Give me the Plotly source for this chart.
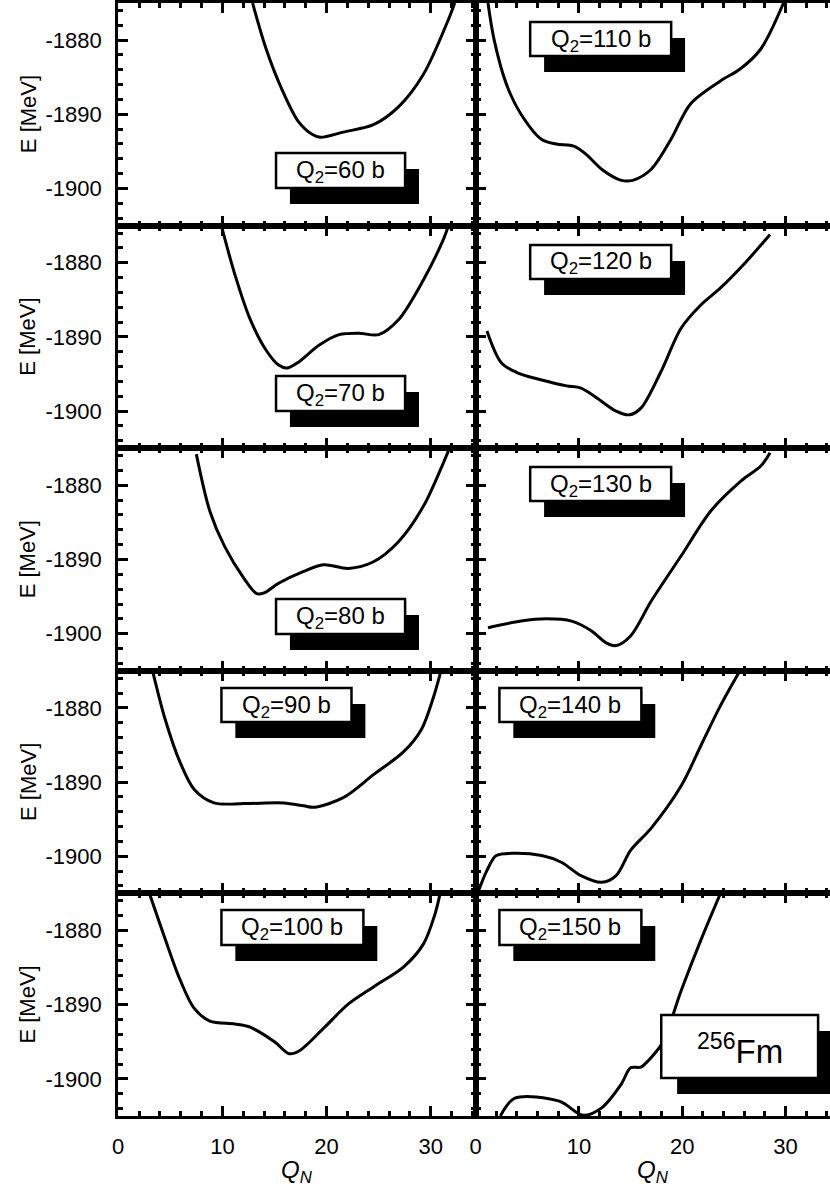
import plotly.graph_objects as go

W, H = 830, 1187

# ---------------- data (Q_N, E in MeV) ----------------
q60 = [12.9, 14.2, 15.7, 17.3, 18.6, 19.4, 21.6, 24.5, 26.9, 29.3, 31.7, 32.3]
e60 = [-1875, -1881.2, -1886.6, -1891, -1892.7, -1893.1, -1892.4, -1891.4, -1889, -1884.6, -1877.2, -1875]

q110 = [1.2, 1.8, 3.0, 4.4, 6.4, 7.8, 9.5, 10.7, 12.2, 14.1, 15.2, 17.0, 18.9, 20.8, 23.7, 25.6, 27.6, 29.8]
e110 = [-1875, -1880, -1886, -1890, -1893.4, -1894, -1894.3, -1895.4, -1897.4, -1898.9, -1898.9, -1897.4,
        -1893.4, -1888.6, -1885.5, -1883.9, -1881.2, -1875]

q70 = [9.9, 11.2, 12.6, 14.2, 15.4, 16.2, 17.3, 19.3, 21.2, 23.1, 25.0, 26.9, 29.3, 31.2, 31.7]
e70 = [-1875, -1881.6, -1887.4, -1891.8, -1893.8, -1894.2, -1893.4, -1891.1, -1889.7, -1889.5, -1889.7,
       -1887.7, -1882.3, -1876.9, -1875]

q120 = [1.1, 2.5, 4.0, 6.4, 8.8, 10.2, 11.7, 13.6, 14.9, 16.0, 17.9, 19.9, 21.8, 23.7, 26.1, 28.5]
e120 = [-1889.2, -1893.5, -1894.8, -1895.8, -1896.6, -1896.9, -1898.2, -1900, -1900.5, -1899.6, -1894.8,
        -1888.8, -1885.7, -1883.4, -1880, -1876.2]

q80 = [7.5, 8.8, 10.2, 12.1, 13.3, 14.0, 15.4, 17.8, 19.7, 22.1, 24.5, 26.9, 29.3, 31.2, 31.8]
e80 = [-1875.8, -1883.5, -1888.2, -1892.6, -1894.6, -1894.5, -1893.2, -1891.6, -1890.7, -1891.2, -1890.3,
       -1887.6, -1882.8, -1877, -1875]

q130 = [1.2, 4.4, 6.8, 9.3, 11.2, 12.6, 13.6, 15.0, 17.0, 19.9, 22.8, 25.7, 27.6, 28.5]
e130 = [-1899.2, -1898.3, -1898.0, -1898.3, -1899.6, -1901.2, -1901.6, -1900.3, -1895.6, -1889.5, -1883.4,
        -1879.4, -1877.4, -1875.6]

q90 = [3.3, 4.5, 5.9, 7.3, 9.2, 12.1, 15.9, 17.8, 18.8, 21.6, 24.5, 27.4, 29.1, 30.2, 30.9]
e90 = [-1875, -1881.5, -1887.2, -1891, -1892.8, -1892.9, -1892.8, -1893.2, -1893.4, -1892.1, -1889,
       -1885.9, -1882.9, -1878.8, -1875.4]

q140 = [0.2, 1.1, 2.0, 3.5, 6.4, 8.3, 10.2, 12.2, 13.6, 15.0, 17.0, 19.9, 21.8, 23.7, 25.5]
e140 = [-1905, -1901.9, -1899.9, -1899.6, -1899.9, -1900.8, -1902.6, -1903.5, -1902.6, -1899.2, -1896.2,
        -1890.5, -1885.1, -1879.7, -1875.2]

q100 = [3.0, 4.5, 5.9, 7.3, 8.8, 11.2, 12.6, 15.0, 16.4, 17.4, 19.7, 22.1, 24.5, 27.4, 29.3, 30.4, 30.9]
e100 = [-1875, -1881.1, -1886.5, -1890.5, -1892.2, -1892.6, -1893, -1895, -1896.6, -1896.2, -1893.2,
        -1889.9, -1887.6, -1884.9, -1881.8, -1877.8, -1875]

q150 = [2.4, 3.8, 8.1, 10.4, 12.2, 14.1, 15.0, 16.0, 17.0, 18.1, 19.9, 21.8, 23.7]
e150 = [-1905, -1902.6, -1903, -1904.9, -1903.9, -1900.7, -1898.5, -1898.4, -1897.1, -1895.1, -1888.1,
        -1881.3, -1875]

panel_labels = ["Q<sub>2</sub>=60 b", "Q<sub>2</sub>=110 b",
                "Q<sub>2</sub>=70 b", "Q<sub>2</sub>=120 b",
                "Q<sub>2</sub>=80 b", "Q<sub>2</sub>=130 b",
                "Q<sub>2</sub>=90 b", "Q<sub>2</sub>=140 b",
                "Q<sub>2</sub>=100 b", "Q<sub>2</sub>=150 b"]
panel_q = [q60, q110, q70, q120, q80, q130, q90, q140, q100, q150]
panel_e = [e60, e110, e70, e120, e80, e130, e90, e140, e100, e150]

x_tickvals = [0, 10, 20, 30]
x_ticktext = ["0", "10", "20", "30"]
y_tickvals = [-1900, -1890, -1880]
y_ticktext = ["-1900", "-1890", "-1880"]
nucleus_label = "<sup>256</sup>Fm"

# ---------------- layout geometry (pixels) ----------------
col_px = [(113, 473), (473, 830)]
row_top, row_h = 3.0, 222.6
X_RANGE = [0, 34.3]
Y_RANGE = [-1905, -1875]

# label boxes: (x0, x1, y0, y1) in px for the white boxes
box_px = [(272, 402, 153, 188), (528, 670, 22, 56),
          (272, 402, 376, 411), (528, 670, 245, 279),
          (272, 402, 599, 634), (528, 670, 467, 501),
          (217, 348, 688, 722), (497, 640, 688, 722),
          (217, 360, 910, 945), (497, 640, 910, 945)]
fm_box_px = (660, 818, 1015, 1078)
SHADOW_DX, SHADOW_DY = 14, 16

FONT = "Liberation Sans, Arial, Helvetica, sans-serif"


def px_x(p):
    return p / W


def px_y(p):
    return 1 - p / H


fig = go.Figure()

for i in range(10):
    n = i + 1
    r, c = divmod(i, 2)
    sfx = "" if n == 1 else str(n)
    fig.add_trace(go.Scatter(
        x=panel_q[i], y=panel_e[i], mode="lines",
        line=dict(color="black", width=3, shape="spline", smoothing=0.9),
        xaxis="x" + sfx, yaxis="y" + sfx, showlegend=False, hoverinfo="skip"))

    x0p, x1p = col_px[c]
    ytop = row_top + r * row_h
    ybot = ytop + row_h
    common = dict(showline=True, linewidth=3, linecolor="black", ticks="inside",
                  tickwidth=3, ticklen=10, tickcolor="black", showgrid=False,
                  zeroline=False, tickfont=dict(family=FONT, size=22, color="black"),
                  ticklabelstandoff=9)
    xa = dict(common, domain=[px_x(x0p), px_x(x1p)], range=X_RANGE,
              anchor="y" + sfx, mirror="ticks",
              tickmode="array", tickvals=x_tickvals, ticktext=x_ticktext,
              showticklabels=(r == 4),
              minor=dict(tickmode="linear", tick0=0, dtick=2, ticks="inside",
                         ticklen=5, tickwidth=3, tickcolor="black"))
    ya = dict(common, domain=[px_y(ybot), px_y(ytop)], range=Y_RANGE,
              anchor="x" + sfx, mirror=("ticks" if c == 0 else False),
              tickmode="array", tickvals=y_tickvals, ticktext=y_ticktext,
              showticklabels=(c == 0),
              minor=dict(tickmode="linear", tick0=-1880, dtick=2, ticks="inside",
                         ticklen=5, tickwidth=3, tickcolor="black"))
    fig.layout["xaxis" + sfx] = xa
    fig.layout["yaxis" + sfx] = ya

shapes = []
annotations = []
for i in range(10):
    bx0, bx1, by0, by1 = box_px[i]
    shapes.append(dict(type="rect", xref="paper", yref="paper",
                       x0=px_x(bx0 + SHADOW_DX), x1=px_x(bx1 + SHADOW_DX),
                       y0=px_y(by1 + SHADOW_DY), y1=px_y(by0 + SHADOW_DY),
                       fillcolor="black", line=dict(width=0), layer="above"))
    shapes.append(dict(type="rect", xref="paper", yref="paper",
                       x0=px_x(bx0), x1=px_x(bx1), y0=px_y(by1), y1=px_y(by0),
                       fillcolor="white", line=dict(color="black", width=2.5), layer="above"))
    annotations.append(dict(text=panel_labels[i], xref="paper", yref="paper",
                            x=px_x((bx0 + bx1) / 2), y=px_y((by0 + by1) / 2 + 1),
                            showarrow=False, xanchor="center", yanchor="middle",
                            font=dict(family=FONT, size=24, color="black")))

fx0, fx1, fy0, fy1 = fm_box_px
shapes.append(dict(type="rect", xref="paper", yref="paper",
                   x0=px_x(fx0 + SHADOW_DX + 2), x1=px_x(fx1 + SHADOW_DX + 4),
                   y0=px_y(fy1 + SHADOW_DY), y1=px_y(fy0 + SHADOW_DY),
                   fillcolor="black", line=dict(width=0), layer="above"))
shapes.append(dict(type="rect", xref="paper", yref="paper",
                   x0=px_x(fx0), x1=px_x(fx1), y0=px_y(fy1), y1=px_y(fy0),
                   fillcolor="white", line=dict(color="black", width=2.5), layer="above"))
annotations.append(dict(text=nucleus_label, xref="paper", yref="paper",
                        x=px_x((fx0 + fx1) / 2), y=px_y((fy0 + fy1) / 2 + 2),
                        showarrow=False, xanchor="center", yanchor="middle",
                        font=dict(family=FONT, size=33, color="black")))

for r in range(5):
    yc = row_top + (r + 0.5) * row_h
    annotations.append(dict(text="E [MeV]", xref="paper", yref="paper",
                            x=px_x(22), y=px_y(yc), textangle=-90, showarrow=False,
                            xanchor="center", yanchor="middle",
                            font=dict(family=FONT, size=22, color="black")))

for c in range(2):
    xc = (col_px[c][0] + col_px[c][1]) / 2
    annotations.append(dict(text="<i>Q<sub>N</sub></i>", xref="paper", yref="paper",
                            x=px_x(xc), y=px_y(1171), showarrow=False,
                            xanchor="center", yanchor="middle",
                            font=dict(family=FONT, size=24, color="black")))

fig.update_layout(width=W, height=H, margin=dict(l=0, r=0, t=0, b=0),
                  paper_bgcolor="white", plot_bgcolor="white",
                  shapes=shapes, annotations=annotations, showlegend=False)

fig.write_html("out.html", config={"displayModeBar": False},
               post_script="document.body.style.margin='0';document.body.style.overflow='hidden';")
